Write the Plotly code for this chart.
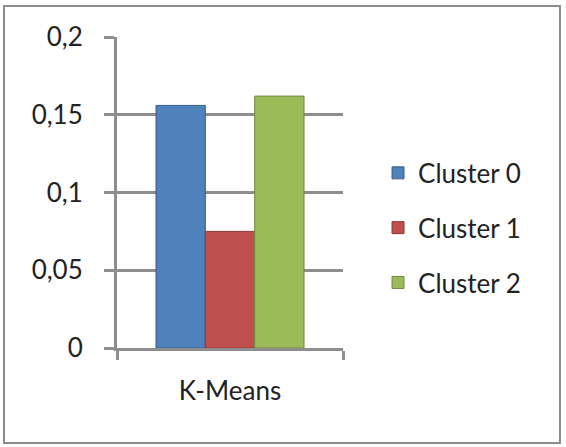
import plotly.graph_objects as go

categories = ["K-Means"]
series_names = ["Cluster 0", "Cluster 1", "Cluster 2"]
series_values = [[0.156], [0.075], [0.162]]
series_colors = ["#4F81BD", "#C0504D", "#9BBB59"]
edge_colors = ["#385D8A", "#8C3836", "#71893F"]
tick_vals = [0, 0.05, 0.1, 0.15, 0.2]
tick_text = ["0", "0,05", "0,1", "0,15", "0,2"]

FONT = "Lato"
TXT = "#222222"
GRID = "#8E8E8E"

fig = go.Figure()
for i, (name, vals) in enumerate(zip(series_names, series_values)):
    fig.add_trace(go.Bar(
        x=categories, y=vals, name=name, legendgroup=name,
        marker=dict(color=series_colors[i], line=dict(color=edge_colors[i], width=1)),
    ))

fig.update_layout(
    width=566, height=447,
    margin=dict(l=117, r=223, t=37, b=99),
    paper_bgcolor="white", plot_bgcolor="white",
    barmode="group", bargap=0.345, bargroupgap=0,
    font=dict(family=FONT, size=26, color=TXT),
    showlegend=True,
    legend=dict(x=1.155, xanchor="left", y=0.386, yanchor="middle",
                font=dict(family=FONT, size=26, color=TXT),
                tracegroupgap=18, bgcolor="rgba(0,0,0,0)"),
    xaxis=dict(showline=True, linecolor=GRID, linewidth=3,
               ticks="outside", tickson="boundaries", ticklen=9,
               tickcolor=GRID, tickwidth=3, showgrid=False,
               tickfont=dict(family=FONT, size=26, color=TXT), ticklabelstandoff=18),
    yaxis=dict(range=[0, 0.2], tickvals=tick_vals, ticktext=tick_text,
               showline=True, linecolor=GRID, linewidth=3,
               showgrid=True, gridcolor=GRID, gridwidth=3,
               ticks="outside", ticklen=10, tickcolor=GRID, tickwidth=3,
               zeroline=False, ticklabelstandoff=16,
               tickfont=dict(family=FONT, size=26, color=TXT)),
)
fig.add_shape(type="rect", xref="paper", yref="paper",
              x0=-0.5, x1=1.96, y0=-0.3055, y1=1.0997,
              line=dict(color="#8C8C8C", width=2), fillcolor="rgba(0,0,0,0)", layer="below")

fig.write_html("out.html")
